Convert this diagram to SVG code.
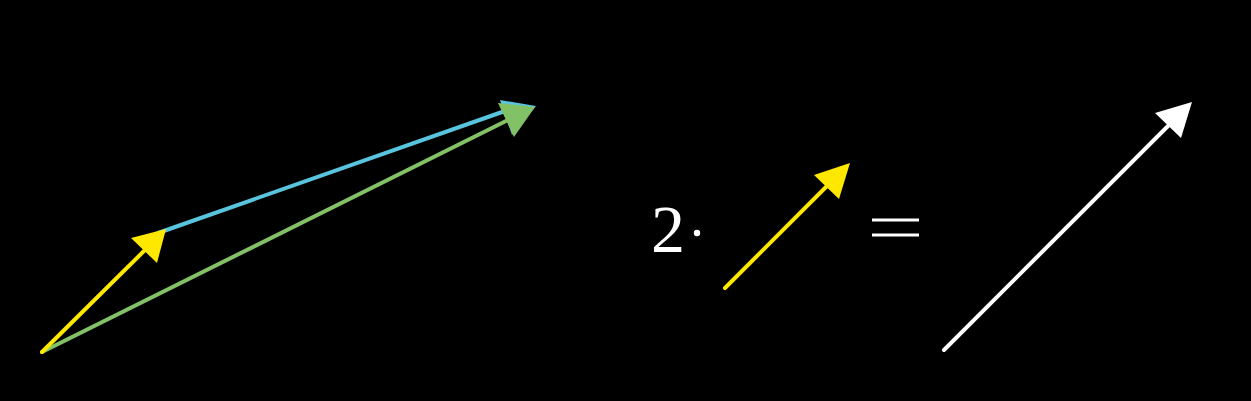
<svg xmlns="http://www.w3.org/2000/svg" width="1251" height="401" viewBox="0 0 1251 401">
<style>
.ln{stroke-width:4;stroke-linecap:round;fill:none}
.y{stroke:#FFE800}.yf{fill:#FFE800}
.b{stroke:#58C4DD}.bf{fill:#58C4DD}
.g{stroke:#83C167}.gf{fill:#83C167}
.w{stroke:#FFFFFF}.wf{fill:#FFFFFF}
.t{font-family:"Liberation Serif","DejaVu Serif",serif;fill:#FFFFFF}
.eq{stroke:#FFFFFF;stroke-width:3}
</style>
<rect width="1251" height="401" fill="#000000"/>
<g id="connectors">
<g id="blue-vector">
<line class="ln b" x1="158" y1="233" x2="505" y2="111"/>
<polygon class="bf" points="536,106 500,100 512,135"/>
</g>
<g id="green-vector">
<line class="ln g" x1="42" y1="352" x2="508" y2="120"/>
<polygon class="gf" points="535,107 498,103 514,137"/>
</g>
<g id="yellow-vector">
<line class="ln y" x1="42" y1="352" x2="146" y2="249"/>
<polygon class="yf" points="166,229 131,238 157,263"/>
</g>
<g id="yellow-vector-2">
<line class="ln y" x1="725" y1="288" x2="829" y2="184"/>
<polygon class="yf" points="850,163 814,175 839,199"/>
</g>
<g id="white-vector">
<line class="ln w" x1="944" y1="350" x2="1170" y2="124"/>
<polygon class="wf" points="1192,102 1155,113 1181,138"/>
</g>
</g>
<g id="scalar">
<text class="t" x="651" y="252" font-size="68">2</text>
<circle cx="697" cy="233" r="3.2" fill="#FFFFFF"/>
</g>
<g id="equals">
<line class="eq" x1="872" y1="220" x2="919" y2="220"/>
<line class="eq" x1="872" y1="235" x2="919" y2="235"/>
</g>
</svg>
